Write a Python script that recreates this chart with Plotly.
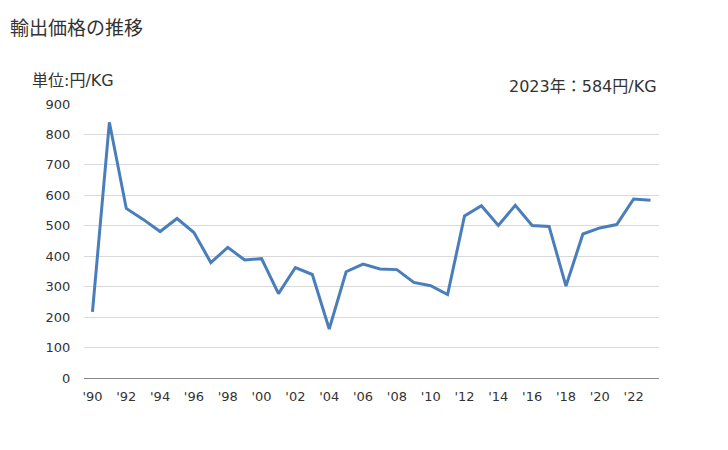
import plotly.graph_objects as go

# Export price per KG (yen), 1990-2023
years = list(range(1990, 2024))
prices = [217, 840, 557, 521, 481, 524, 478, 379, 429, 388,
          392, 277, 363, 340, 161, 349, 374, 358, 356, 314,
          303, 274, 532, 566, 501, 567, 501, 498, 302, 473,
          493, 504, 588, 584]

tick_years = list(range(1990, 2024, 2))
tick_labels = ["'" + str(y)[2:] for y in tick_years]
y_ticks = list(range(0, 1000, 100))

font_family = "DejaVu Sans, Noto Sans CJK JP, sans-serif"

fig = go.Figure()
fig.add_trace(go.Scatter(
    x=years,
    y=prices,
    mode="lines",
    line=dict(color="#4a7ebb", width=3),
    showlegend=False,
))

# page body has an 8px margin, so the figure is 8px smaller
fig.update_layout(
    width=720,
    height=442,
    margin=dict(l=76, r=69, t=96, b=72),
    plot_bgcolor="white",
    paper_bgcolor="white",
    font=dict(family=font_family, size=13, color="#333333"),
    xaxis=dict(
        range=[1989.5, 2023.5],
        tickvals=tick_years,
        ticktext=tick_labels,
        showgrid=False,
        showline=True,
        linecolor="#888888",
        linewidth=1,
        ticks="outside",
        ticklen=6,
        tickcolor="white",
        zeroline=False,
        tickfont=dict(size=13),
    ),
    yaxis=dict(
        range=[0, 900],
        tickvals=y_ticks,
        showgrid=True,
        gridcolor="#d9d9d9",
        gridwidth=1,
        zeroline=False,
        ticks="outside",
        ticklen=10,
        tickcolor="white",
        tickfont=dict(size=13),
    ),
)

fig.add_annotation(
    text="輸出価格の推移", xref="paper", yref="paper",
    x=-76 / 575, y=1 + 76 / 274, xanchor="left", yanchor="middle",
    showarrow=False, font=dict(size=19, color="#333333"),
)
fig.add_annotation(
    text="単位:円/KG", xref="paper", yref="paper",
    x=-54 / 575, y=1 + 24 / 274, xanchor="left", yanchor="middle",
    showarrow=False, font=dict(size=16, color="#333333"),
)
fig.add_annotation(
    text="2023年：584円/KG", xref="paper", yref="paper",
    x=1, y=1 + 17 / 274, xanchor="right", yanchor="middle",
    showarrow=False, font=dict(size=16, color="#333333"),
)

fig.write_html("out.html")
